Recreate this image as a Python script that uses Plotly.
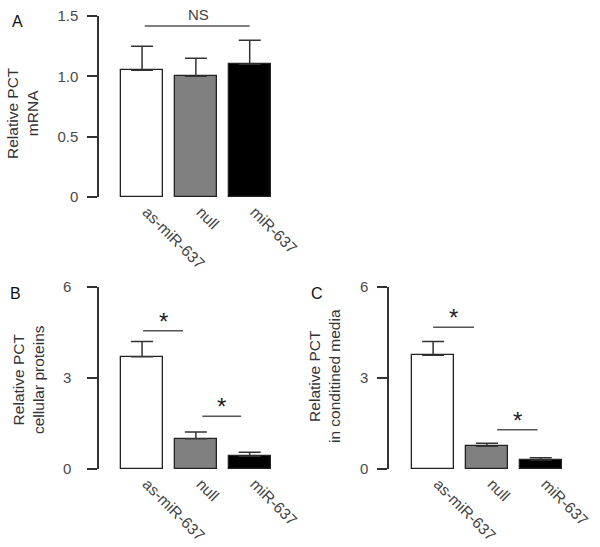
import plotly.graph_objects as go

W, H = 600, 547

categories = ["as-miR-637", "null", "miR-637"]
bar_colors = ["#ffffff", "#808080", "#000000"]

# Panel A: Relative PCT mRNA
a_values = [1.05, 1.00, 1.10]
a_errors = [0.20, 0.15, 0.20]
# Panel B: Relative PCT cellular proteins
b_values = [3.70, 1.00, 0.42]
b_errors = [0.50, 0.22, 0.13]
# Panel C: Relative PCT in conditioned media
c_values = [3.75, 0.75, 0.30]
c_errors = [0.45, 0.10, 0.07]

a_ticks = [0, 0.5, 1.0, 1.5]
a_ticktext = ["0", "0.5", "1.0", "1.5"]
bc_ticks = [0, 3, 6]
bc_ticktext = ["0", "3", "6"]

# significance brackets: (x start, x end, y level, label)
a_sig = [(0.05, 2.0, 1.417, "NS")]
b_sig = [(0.02, 0.76, 4.56, "*"), (1.12, 1.84, 1.74, "*")]
c_sig = [(0.0, 0.76, 4.67, "*"), (1.19, 1.94, 1.29, "*")]

def px_x(p):
    return p / W

def px_y(p):
    return 1 - p / H

fig = go.Figure()

panels = [
    ("x", "y", a_values, a_errors, a_sig),
    ("x2", "y2", b_values, b_errors, b_sig),
    ("x3", "y3", c_values, c_errors, c_sig),
]

for xa, ya, vals, errs, sigs in panels:
    fig.add_trace(go.Bar(
        x=[0, 1, 2], y=vals, xaxis=xa, yaxis=ya,
        width=0.78,
        marker=dict(color=bar_colors, line=dict(color="#222222", width=1.3)),
        error_y=dict(type="data", symmetric=False, array=errs,
                     arrayminus=[0] * len(errs),
                     color="#333333", thickness=1.5, width=11),
        showlegend=False,
    ))
    for x0, x1, yv, lab in sigs:
        fig.add_shape(type="line", xref=xa, yref=ya, x0=x0, x1=x1, y0=yv, y1=yv,
                      line=dict(color="#555555", width=1.5))
        if lab == "NS":
            fig.add_annotation(xref=xa, yref=ya, x=(x0 + x1) / 2 + 0.03, y=yv,
                               text=lab, showarrow=False, yanchor="bottom",
                               yshift=1, font=dict(size=15, color="#444444"))
        else:
            fig.add_annotation(xref=xa, yref=ya, x=(x0 + x1) / 2, y=yv,
                               text=lab, showarrow=False, yanchor="bottom",
                               yshift=-6, font=dict(size=24, color="#222222"))

font_family = "Liberation Sans, Arial, sans-serif"

yaxis_common = dict(showline=True, linecolor="#333333", linewidth=1.5,
                    ticks="outside", ticklen=10, tickwidth=1.5, tickcolor="#333333",
                    showgrid=False, zeroline=False, automargin=False,
                    tickfont=dict(size=15, color="#4a4a4a"))
xaxis_common = dict(showline=False, ticks="", showgrid=False, zeroline=False,
                    automargin=False, ticklabelshift=5, ticklabelstandoff=2,
                    tickvals=[0, 1, 2], ticktext=categories, tickangle=45,
                    tickfont=dict(size=15.5, color="#444444"))

fig.update_layout(
    width=W, height=H,
    autosize=False,
    margin=dict(l=0, r=0, t=0, b=0, pad=0),
    paper_bgcolor="white", plot_bgcolor="white",
    font=dict(family=font_family),
    bargap=0,
    xaxis=dict(domain=[px_x(99), px_x(282)], range=[-0.8, 2.6], anchor="y", **xaxis_common),
    yaxis=dict(domain=[px_y(197), px_y(16)], range=[0, 1.5], anchor="x",
               tickvals=a_ticks, ticktext=a_ticktext, ticklabelstandoff=6, **yaxis_common),
    xaxis2=dict(domain=[px_x(99), px_x(282)], range=[-0.8, 2.6], anchor="y2", **xaxis_common),
    yaxis2=dict(domain=[px_y(469), px_y(287)], range=[0, 6], anchor="x2",
                tickvals=bc_ticks, ticktext=bc_ticktext, ticklabelstandoff=13, **yaxis_common),
    xaxis3=dict(domain=[px_x(389), px_x(573)], range=[-0.82, 2.6], anchor="y3", **xaxis_common),
    yaxis3=dict(domain=[px_y(469), px_y(287)], range=[0, 6], anchor="x3",
                tickvals=bc_ticks, ticktext=bc_ticktext, ticklabelstandoff=6, **yaxis_common),
)

titles = [
    ("Relative PCT<br>mRNA", 23, 113),
    ("Relative PCT<br>cellular proteins", 28, 380),
    ("Relative PCT<br>in conditined media", 324, 376),
]
for txt, cx, cy in titles:
    fig.add_annotation(xref="paper", yref="paper", x=px_x(cx), y=px_y(cy),
                       text=txt, textangle=-90, showarrow=False,
                       xanchor="center", yanchor="middle",
                       font=dict(size=15.5, color="#333333"))

for lab, cx, cy in [("A", 17, 22), ("B", 15, 293), ("C", 317, 293)]:
    fig.add_annotation(xref="paper", yref="paper", x=px_x(cx), y=px_y(cy),
                       text=lab, showarrow=False, xanchor="center", yanchor="middle",
                       font=dict(size=16, color="#111111"))

fig.write_html("out.html", config={"displayModeBar": False},
               post_script="document.body.style.margin='0';document.body.style.padding='0';document.body.style.overflow='hidden';")
